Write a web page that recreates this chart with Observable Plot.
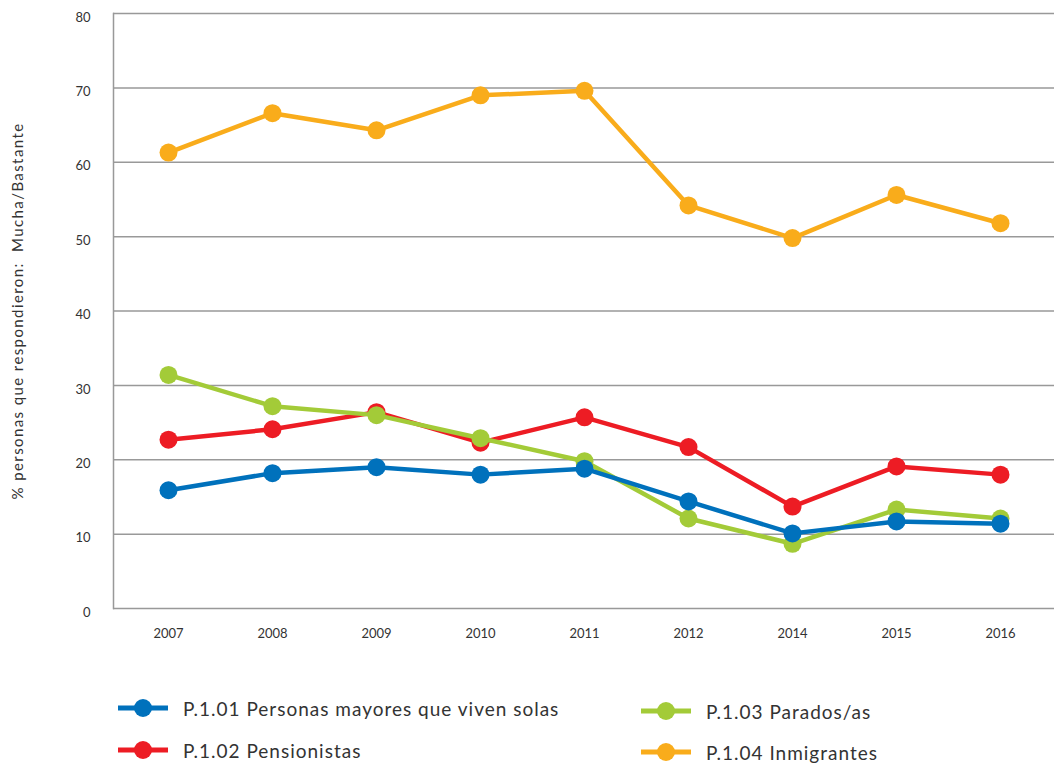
<!DOCTYPE html>
<html>
<head>
<meta charset="utf-8">
<script src="https://cdn.jsdelivr.net/npm/d3@7"></script>
<script src="https://cdn.jsdelivr.net/npm/@observablehq/plot@0.6"></script>
<style>
  body { margin: 0; background: #fff; font-family: Lato, "Noto Sans", sans-serif; }
  #chart { position: relative; width: 1054px; height: 763px; overflow: hidden; }
  .leg { position: absolute; display: flex; align-items: center; font-size: 19px; letter-spacing: 1px; color: #333; white-space: nowrap; }
  .leg svg { margin-right: 14px; }
</style>
</head>
<body>
<div id="chart"></div>
<script>
const years = ["2007", "2008", "2009", "2010", "2011", "2012", "2014", "2015", "2016"];
const seriesNames = [
  "P.1.01 Personas mayores que viven solas",
  "P.1.02 Pensionistas",
  "P.1.03 Parados/as",
  "P.1.04 Inmigrantes"
];
const seriesColors = ["#0071BC", "#ED1C24", "#A3CB38", "#F9AC1B"];
const mayores     = [15.9, 18.2, 19.0, 18.0, 18.8, 14.4, 10.1, 11.7, 11.4];
const pensionistas = [22.7, 24.1, 26.4, 22.3, 25.7, 21.7, 13.7, 19.1, 18.0];
const parados     = [31.4, 27.2, 26.0, 22.9, 19.8, 12.1, 8.7, 13.3, 12.1];
const inmigrantes = [61.3, 66.6, 64.3, 69.0, 69.6, 54.2, 49.8, 55.6, 51.8];
const yTicks = [0, 10, 20, 30, 40, 50, 60, 70, 80];
const yLabel = "% personas que respondieron:  Mucha/Bastante";

const valuesBySeries = [mayores, pensionistas, parados, inmigrantes];
const data = [];
valuesBySeries.forEach((vals, i) => {
  vals.forEach((v, j) => data.push({ serie: seriesNames[i], year: years[j], value: v }));
});
// drawing order: orange, red, green, blue on top
const order = [3, 1, 2, 0];

const marks = [
  Plot.gridY(yTicks, { stroke: "#999", strokeOpacity: 1, strokeWidth: 1.5 }),
  Plot.frame({ anchor: "left", stroke: "#999", strokeWidth: 1.5 }),
  Plot.axisY(yTicks, { tickSize: 0, tickPadding: 23, fontSize: 13, fill: "#333", dy: 4, label: null }),
  Plot.axisX({ tickSize: 0, tickPadding: 20, fontSize: 13, fill: "#333", label: null }),
  Plot.text([yLabel], { frameAnchor: "left", textAnchor: "middle", dx: -95, dy: 0, rotate: -90, fontSize: 15, fill: "#333", style: "letter-spacing: 1.4px" })
];
for (const i of order) {
  const d = data.filter(r => r.serie === seriesNames[i]);
  marks.push(Plot.line(d, { x: "year", y: "value", stroke: seriesColors[i], strokeWidth: 4.5 }));
  marks.push(Plot.dot(d, { x: "year", y: "value", fill: seriesColors[i], r: 9 }));
}

const plot = Plot.plot({
  width: 1054,
  height: 650,
  marginLeft: 113,
  marginRight: 0,
  marginTop: 13,
  marginBottom: 42,
  style: { fontFamily: "Lato, 'Noto Sans', sans-serif", background: "#fff", overflow: "visible" },
  x: { type: "point", domain: years, padding: 0.5 },
  y: { domain: [0, 80], ticks: yTicks },
  marks
});
const chart = document.getElementById("chart");
chart.appendChild(plot);
plot.querySelectorAll("text").forEach(t => {
  if (t.textContent === yLabel) t.style.letterSpacing = "1.4px";
});

const legPos = [
  { left: 117, top: 708 },
  { left: 117, top: 750 },
  { left: 640, top: 711 },
  { left: 640, top: 752 }
];
seriesNames.forEach((name, i) => {
  const el = document.createElement("div");
  el.className = "leg";
  el.style.left = legPos[i].left + "px";
  el.style.top = (legPos[i].top - 12) + "px";
  el.style.height = "24px";
  el.innerHTML = `<svg width="52" height="22"><line x1="1" x2="51" y1="11" y2="11" stroke="${seriesColors[i]}" stroke-width="5"/><circle cx="26" cy="11" r="9" fill="${seriesColors[i]}"/></svg><span>${name}</span>`;
  chart.appendChild(el);
});
</script>
</body>
</html>
